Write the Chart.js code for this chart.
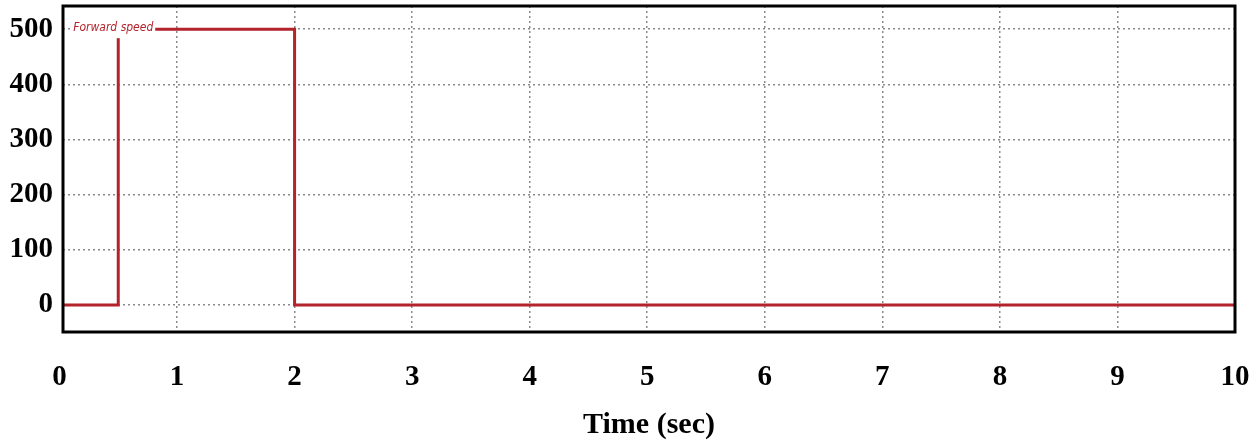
<!DOCTYPE html>
<html lang="en">
<head>
    <meta charset="UTF-8" />
    <title>Forward speed</title>
    <style>
        html, body { margin: 0; padding: 0; background: #fff; }
        #wrap { width: 1250px; height: 445px; }
    </style>
</head>
<body>
    <div id="wrap"><canvas id="speedChart" width="1250" height="445"></canvas></div>

    <script src="https://cdn.jsdelivr.net/npm/chart.js"></script>
    <script>
        // data
        const time = [0, 0.5, 0.5, 2, 2, 10];
        const speed = [0, 0, 500, 500, 0, 0];
        const xTicks = [0, 1, 2, 3, 4, 5, 6, 7, 8, 9, 10];
        const yTicks = [0, 100, 200, 300, 400, 500];
        const seriesLabel = 'Forward speed';

        const red = '#b3232b';
        const gridGrey = '#8a8a8a';
        const serif = '"Liberation Serif", "Times New Roman", serif';

        // black box round the plot + the little series label
        const frame = {
            id: 'frame',
            afterDatasetsDraw(chart) {
                const { ctx, chartArea: a, scales } = chart;
                ctx.save();
                const lx = scales.x.getPixelForValue(0.1);
                const ly = scales.y.getPixelForValue(500);
                ctx.fillStyle = '#fff';
                ctx.fillRect(lx, ly - 10, 84, 19);
                ctx.fillStyle = red;
                ctx.font = 'italic 12px "Liberation Sans Narrow", "DejaVu Sans Condensed", sans-serif';
                ctx.textBaseline = 'middle';
                ctx.fillText(seriesLabel, lx + 2, ly - 1);
                ctx.strokeStyle = '#000';
                ctx.lineWidth = 3;
                ctx.strokeRect(a.left, a.top, a.right - a.left, a.bottom - a.top);
                ctx.restore();
            }
        };

        new Chart(document.getElementById('speedChart'), {
            type: 'line',
            data: {
                datasets: [{
                    label: seriesLabel,
                    data: time.map((t, i) => ({ x: t, y: speed[i] })),
                    borderColor: red,
                    borderWidth: 3,
                    pointRadius: 0,
                    tension: 0,
                    fill: false
                }]
            },
            plugins: [frame],
            options: {
                responsive: false,
                animation: false,
                layout: { padding: { top: 6, right: 15, left: 0, bottom: 0 } },
                plugins: {
                    legend: { display: false },
                    tooltip: { enabled: false }
                },
                scales: {
                    x: {
                        type: 'linear',
                        min: 0.03,
                        max: 10,
                        afterBuildTicks: (s) => { s.ticks = xTicks.map(v => ({ value: v })); },
                        afterFit: (s) => {
                            s.height = 113;
                            s.paddingLeft = 0;
                            s.paddingRight = 0;
                        },
                        border: { display: false, dash: [2, 3] },
                        grid: {
                            drawTicks: false,
                            color: (c) => (c.tick && (c.tick.value === 0 || c.tick.value === 10)) ? 'rgba(0,0,0,0)' : gridGrey,
                            lineWidth: 1.5
                        },
                        ticks: {
                            padding: 28,
                            color: '#000',
                            font: { family: serif, size: 29, weight: 'bold' },
                            maxRotation: 0
                        },
                        title: {
                            display: true,
                            text: 'Time (sec)',
                            color: '#000',
                            font: { family: serif, size: 30, weight: 'bold' },
                            padding: { top: 0, bottom: 2 }
                        }
                    },
                    y: {
                        min: -49,
                        max: 542,
                        afterBuildTicks: (s) => { s.ticks = yTicks.map(v => ({ value: v })); },
                        afterFit: (s) => {
                            s.width = 63;
                            s.paddingTop = 0;
                            s.paddingBottom = 0;
                        },
                        border: { display: false, dash: [2, 3] },
                        grid: {
                            drawTicks: false,
                            color: gridGrey,
                            lineWidth: 1.5
                        },
                        ticks: {
                            padding: 10,
                            color: '#000',
                            font: { family: serif, size: 29, weight: 'bold' }
                        }
                    }
                }
            }
        });
    </script>
</body>
</html>
